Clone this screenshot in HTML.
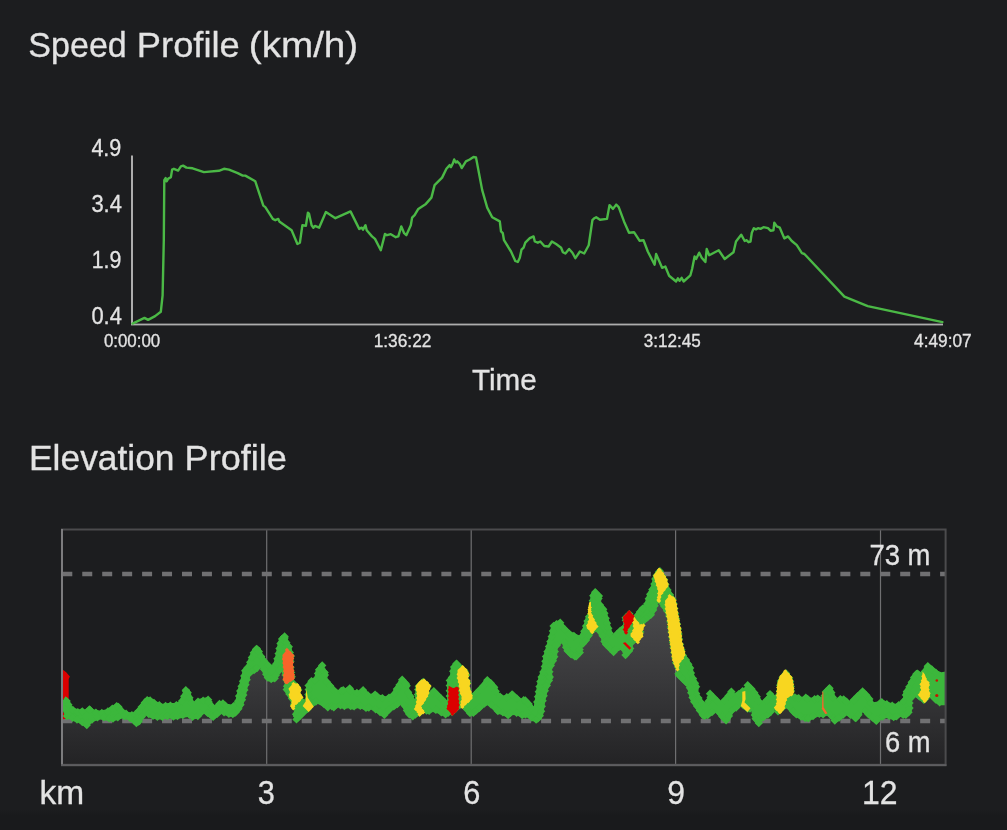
<!DOCTYPE html>
<html><head><meta charset="utf-8"><title>Profiles</title>
<style>
html,body{margin:0;padding:0;background:#1c1d1f;}
body{width:1007px;height:830px;overflow:hidden;position:relative;font-family:"Liberation Sans",sans-serif;}
</style></head><body>
<svg width="1007" height="830" viewBox="0 0 1007 830" style="position:absolute;left:0;top:0;display:block">
<defs><linearGradient id="g" x1="0" y1="575" x2="0" y2="765" gradientUnits="userSpaceOnUse"><stop offset="0" stop-color="#515153"/><stop offset="0.55" stop-color="#39393b"/><stop offset="1" stop-color="#232325"/></linearGradient>
<linearGradient id="bb" x1="0" y1="810" x2="0" y2="830" gradientUnits="userSpaceOnUse"><stop offset="0" stop-color="#1c1d1f"/><stop offset="0.25" stop-color="#191a1c"/><stop offset="1" stop-color="#191a1c"/></linearGradient>
<filter id="gs" x="0" y="0" width="1007" height="830" filterUnits="userSpaceOnUse" color-interpolation-filters="sRGB"><feColorMatrix type="saturate" values="0"/></filter>
<marker id="dg" markerWidth="10" markerHeight="10" refX="5" refY="5" markerUnits="userSpaceOnUse"><path d="M5 0.8L9.2 5L5 9.2L0.8 5Z" fill="#3cb73c"/></marker>
<marker id="dy" markerWidth="6" markerHeight="6" refX="3" refY="3" markerUnits="userSpaceOnUse"><path d="M3 0.9L5.1 3L3 5.1L0.9 3Z" fill="#f8d620"/></marker>
<marker id="do" markerWidth="6" markerHeight="6" refX="3" refY="3" markerUnits="userSpaceOnUse"><path d="M3 0.9L5.1 3L3 5.1L0.9 3Z" fill="#f8652a"/></marker>
<marker id="dr" markerWidth="6" markerHeight="6" refX="3" refY="3" markerUnits="userSpaceOnUse"><path d="M3 0.9L5.1 3L3 5.1L0.9 3Z" fill="#dc0000"/></marker>
<clipPath id="c"><rect x="61" y="529" width="885" height="236"/></clipPath></defs>
<rect x="0" y="810" width="1007" height="20" fill="url(#bb)"/>
<rect x="131" y="155.5" width="2" height="169.5" fill="#adadad"/>
<rect x="131" y="323.6" width="812" height="1.8" fill="#adadad"/>
<polyline points="132.5,323.6 144.5,317.9 148.1,319.9 155.1,316.1 160.8,311.8 162.6,295.3 163.8,240.2 164.3,180.1 165.6,178.1 166.6,181.3 168.1,178.8 170.9,177.1 172.1,169.6 173.9,168.8 178.1,170.6 180.9,166.3 183.1,165.6 186.4,167.6 192.6,168.3 203.9,172.1 218.9,170.8 224.0,168.8 229.0,169.6 237.7,173.1 242.7,175.6 245.3,175.6 255.3,181.3 263.3,205.6 265.3,207.1 272.8,218.9 275.3,220.2 278.3,218.9 279.3,221.4 291.6,230.2 297.4,244.0 299.9,242.7 302.4,225.2 305.9,225.7 307.9,212.6 309.1,213.9 311.6,225.2 313.4,227.7 314.9,225.9 319.1,227.7 325.9,212.1 335.4,218.2 350.5,211.4 359.2,228.9 361.7,227.7 363.0,229.7 365.5,225.2 366.7,230.2 372.0,236.4 375.0,238.9 380.8,250.2 385.0,233.9 387.0,235.2 390.8,234.2 395.8,237.2 398.3,236.4 401.3,226.4 404.1,233.2 406.3,235.2 410.8,225.2 412.1,217.7 414.6,215.2 418.3,208.9 425.9,203.9 431.4,197.6 434.6,185.1 437.1,182.6 442.1,177.6 446.4,168.8 449.7,165.1 450.9,167.1 452.7,163.8 454.2,159.5 455.9,162.5 457.2,161.3 459.7,163.8 461.7,168.1 465.9,161.3 469.7,159.5 473.5,157.0 476.0,157.5 482.2,190.1 487.2,207.6 492.2,217.2 499.8,221.4 501.0,231.4 502.8,233.2 504.0,240.2 511.0,251.5 515.3,261.0 517.8,262.0 519.8,257.7 521.5,249.7 523.6,247.7 525.3,242.7 529.8,238.2 533.6,236.4 534.8,241.5 537.8,242.7 540.3,241.5 544.3,246.0 548.6,246.5 551.9,241.5 556.1,244.0 561.1,247.7 562.9,252.2 565.4,253.5 569.1,249.0 572.4,252.7 575.4,258.2 579.9,251.5 584.2,253.5 588.7,245.2 592.4,220.2 594.4,218.2 596.2,217.2 600.0,219.7 607.0,218.9 609.5,205.1 613.0,208.9 616.2,204.6 618.7,207.1 624.0,221.4 629.0,232.7 634.0,232.2 639.5,240.7 643.5,240.2 647.8,251.5 654.6,264.7 656.1,254.0 662.1,267.8 665.3,266.5 669.1,275.8 676.1,281.5 677.9,278.3 679.6,280.8 681.6,277.8 683.6,281.5 690.4,275.3 692.1,269.0 694.6,256.5 696.1,259.0 699.2,252.7 701.7,257.7 705.4,262.0 706.7,249.0 709.2,255.2 718.7,250.2 724.7,259.0 733.5,252.2 736.0,241.5 741.2,234.7 744.7,241.0 746.7,240.2 748.5,242.2 750.5,241.5 751.8,232.7 753.8,228.2 756.0,229.4 758.0,228.2 760.5,228.9 763.5,227.2 768.0,228.2 770.5,230.7 773.5,230.2 774.3,222.7 776.8,226.4 779.8,227.7 784.3,238.4 788.1,236.4 791.8,241.0 796.8,245.2 801.9,253.2 804.4,254.0 844.4,296.6 867.7,306.1 942.4,322.1" fill="none" stroke="#4bb946" stroke-width="2.4" stroke-linejoin="round" stroke-linecap="round"/>
<g clip-path="url(#c)">
<polygon points="61.5,765 61.5,705.4 62.2,705.4 65.5,700.2 69.2,703.9 72.2,710.7 75.2,712.2 78.9,713.6 81.9,712.2 84.9,713.6 89.4,709.9 93.8,713.6 99.8,714.4 105.8,713.6 111.8,709.9 117.0,706.9 120.7,709.2 123.7,713.6 128.2,715.9 132.7,716.6 136.4,713.6 140.2,708.4 144.6,702.4 148.4,700.9 152.1,702.4 156.6,705.4 162.6,707.7 168.6,706.9 174.5,706.9 179.0,705.4 182.0,698.7 184.2,693.0 186.5,691.5 189.5,693.5 191.7,700.2 194.0,706.2 196.9,703.2 204.0,701.7 208.4,700.9 211.4,705.4 214.4,709.2 218.2,705.4 222.6,704.7 227.1,707.7 231.6,708.4 235.3,705.4 237.6,694.2 240.6,683.8 242.8,673.3 246.5,668.8 249.5,659.9 252.5,653.1 256.3,649.4 260.0,651.6 263.0,658.4 266.7,664.3 271.2,668.8 273.4,668.1 275.7,658.4 277.9,646.4 280.2,640.4 283.2,638.2 286.9,640.4 289.1,646.4 291.4,650.1 292.1,654.6 293.6,659.1 292.9,668.8 294.4,680.8 293.9,684.5 298.1,688.2 301.1,692.7 300.3,697.2 302.6,701.7 305.3,705.9 305.9,694.2 306.3,688.2 309.3,683.8 314.5,681.5 316.0,673.3 320.5,667.3 325.0,672.6 328.0,676.3 327.2,682.3 331.0,686.8 335.4,692.0 338.4,694.2 341.0,691.2 345.5,692.0 349.2,689.7 354.4,694.2 358.9,694.2 362.6,691.2 367.1,695.7 370.9,698.0 374.6,695.7 379.8,698.7 385.8,700.2 391.8,697.2 394.8,691.2 399.2,684.5 403.0,680.8 406.7,684.5 409.7,688.2 409.0,692.7 412.7,698.7 414.9,703.9 415.7,689.7 419.4,685.3 423.9,683.0 427.6,686.0 430.6,689.7 429.1,694.2 428.8,698.0 430.6,695.7 435.1,692.7 439.6,697.2 444.1,701.7 447.1,704.7 447.1,683.8 450.0,679.3 450.8,671.8 453.0,667.3 456.3,664.3 459.8,667.3 462.0,669.6 466.5,673.3 468.7,677.8 468.0,682.3 470.2,685.3 469.5,691.2 471.0,695.7 472.5,698.7 474.0,695.7 479.9,689.7 484.4,684.5 488.2,681.5 491.9,684.5 496.4,689.7 499.4,697.2 503.8,699.5 508.3,698.0 512.1,695.0 516.5,698.7 521.0,702.4 525.5,700.9 530.7,706.2 533.7,710.7 535.2,701.7 536.7,691.2 538.2,682.3 541.9,671.8 543.4,659.9 547.7,645.3 550.2,635.2 551.0,629.3 556.1,625.1 559.5,624.2 564.5,629.3 570.4,635.2 577.2,638.6 579.7,639.4 583.1,631.0 585.6,621.7 589.0,615.0 589.9,606.5 590.7,598.1 595.8,593.0 601.7,598.9 600.8,605.7 605.9,612.4 608.4,621.7 611.0,631.8 612.7,638.6 617.7,633.5 621.9,630.1 623.6,628.5 622.8,620.9 628.7,615.0 633.8,620.0 639.7,611.6 644.7,607.4 647.3,598.1 651.5,588.8 653.2,579.5 659.1,571.9 663.3,577.0 666.7,582.9 668.4,589.6 671.7,596.4 675.1,602.3 676.8,609.9 677.6,616.6 679.3,625.1 681.0,635.2 681.9,645.3 685.2,658.0 688.6,663.1 692.8,670.7 693.7,677.4 699.0,689.7 698.2,695.7 702.0,703.2 704.9,706.9 707.9,700.2 711.7,695.7 716.1,700.2 720.6,704.7 725.1,700.2 729.6,693.5 734.1,697.2 737.8,695.7 741.5,692.7 745.3,691.2 749.0,686.8 753.5,691.2 758.0,697.2 760.2,701.7 761.7,705.4 766.2,700.9 771.4,695.7 775.2,699.5 777.4,695.7 777.4,686.8 779.6,680.8 785.6,674.1 791.6,680.8 793.1,686.8 793.8,694.2 793.1,698.7 797.6,698.7 802.1,700.9 805.8,698.7 811.0,701.7 817.0,699.5 821.5,700.9 823.7,694.2 829.0,689.0 833.4,694.2 836.0,702.4 840.5,700.2 844.9,700.9 849.4,704.7 853.9,700.2 858.4,695.7 864.4,693.5 869.6,698.7 871.8,701.7 873.3,706.2 877.8,705.4 881.5,703.2 886.8,705.4 891.3,706.9 895.7,707.7 900.2,705.4 903.2,701.7 903.2,696.5 906.9,689.7 910.7,682.3 912.9,677.8 916.7,674.1 921.1,676.3 924.1,671.8 928.6,667.3 933.1,671.1 937.6,674.8 941.3,676.3 945.8,675.5 946,675.5 946,765" fill="url(#g)"/>
</g>
<rect x="266.09999999999997" y="530" width="1.2" height="235" fill="#6f6f71"/>
<rect x="470.59999999999997" y="530" width="1.2" height="235" fill="#6f6f71"/>
<rect x="675.0" y="530" width="1.2" height="235" fill="#6f6f71"/>
<rect x="879.9" y="530" width="1.2" height="235" fill="#6f6f71"/>
<line x1="62.3" y1="574" x2="946" y2="574" stroke="#707072" stroke-width="4.5" stroke-dasharray="10 9.95" clip-path="url(#c)"/>
<line x1="62.3" y1="721" x2="946" y2="721" stroke="#707072" stroke-width="4.5" stroke-dasharray="10 9.95" clip-path="url(#c)"/>
<g clip-path="url(#c)" stroke-linejoin="round">
<polygon points="62.2,669.3 66.2,672.3 69.9,676.5 68.7,679.0 68.7,699.2 62.2,699.2" fill="#dc0000"/>
<polygon points="62.2,709.6 66.2,718.6 62.2,719.4" fill="#dc0000"/>
<polygon points="61.5,701.4 62.2,701.4 65.5,696.2 69.2,699.9 72.2,706.7 75.2,708.2 78.9,709.6 81.9,708.2 84.9,709.6 89.4,705.9 93.8,709.6 99.8,710.4 105.8,709.6 111.8,705.9 117.0,702.9 120.7,705.2 123.7,709.6 128.2,711.9 132.7,712.6 136.4,709.6 140.2,704.4 144.6,698.4 148.4,696.9 152.1,698.4 156.6,701.4 162.6,703.7 168.6,702.9 174.5,702.9 179.0,701.4 182.0,694.7 184.2,689.0 186.5,687.5 189.5,689.5 191.7,696.2 194.0,702.2 196.9,699.2 204.0,697.7 208.4,696.9 211.4,701.4 214.4,705.2 218.2,701.4 222.6,700.7 227.1,703.7 231.6,704.4 235.3,701.4 237.6,690.2 240.6,679.8 242.8,669.3 246.5,664.8 249.5,655.9 252.5,649.1 256.3,645.4 260.0,647.6 263.0,654.4 266.7,660.3 271.2,664.8 273.4,664.1 275.7,654.4 277.9,642.4 280.2,636.4 283.2,634.2 286.9,636.4 289.1,642.4 291.4,646.1 292.1,650.6 293.6,655.1 292.9,664.8 294.4,676.8 293.9,680.5 298.1,684.2 301.1,688.7 300.3,693.2 302.6,697.7 305.3,701.9 305.9,690.2 306.3,684.2 309.3,679.8 314.5,677.5 316.0,669.3 320.5,663.3 325.0,668.6 328.0,672.3 327.2,678.3 331.0,682.8 335.4,688.0 338.4,690.2 341.0,687.2 345.5,688.0 349.2,685.7 354.4,690.2 358.9,690.2 362.6,687.2 367.1,691.7 370.9,694.0 374.6,691.7 379.8,694.7 385.8,696.2 391.8,693.2 394.8,687.2 399.2,680.5 403.0,676.8 406.7,680.5 409.7,684.2 409.0,688.7 412.7,694.7 414.9,699.9 415.7,685.7 419.4,681.3 423.9,679.0 427.6,682.0 430.6,685.7 429.1,690.2 428.8,694.0 430.6,691.7 435.1,688.7 439.6,693.2 444.1,697.7 447.1,700.7 447.1,679.8 450.0,675.3 450.8,667.8 453.0,663.3 456.3,660.3 459.8,663.3 462.0,665.6 466.5,669.3 468.7,673.8 468.0,678.3 470.2,681.3 469.5,687.2 471.0,691.7 472.5,694.7 474.0,691.7 479.9,685.7 484.4,680.5 488.2,677.5 491.9,680.5 496.4,685.7 499.4,693.2 503.8,695.5 508.3,694.0 512.1,691.0 516.5,694.7 521.0,698.4 525.5,696.9 530.7,702.2 533.7,706.7 535.2,697.7 536.7,687.2 538.2,678.3 541.9,667.8 543.4,655.9 547.7,641.3 550.2,631.2 551.0,625.3 556.1,621.1 559.5,620.2 564.5,625.3 570.4,631.2 577.2,634.6 579.7,635.4 583.1,627.0 585.6,617.7 589.0,611.0 589.9,602.5 590.7,594.1 595.8,589.0 601.7,594.9 600.8,601.7 605.9,608.4 608.4,617.7 611.0,627.8 612.7,634.6 617.7,629.5 621.9,626.1 623.6,624.5 622.8,616.9 628.7,611.0 633.8,616.0 639.7,607.6 644.7,603.4 647.3,594.1 651.5,584.8 653.2,575.5 659.1,567.9 663.3,573.0 666.7,578.9 668.4,585.6 671.7,592.4 675.1,598.3 676.8,605.9 677.6,612.6 679.3,621.1 681.0,631.2 681.9,641.3 685.2,654.0 688.6,659.1 692.8,666.7 693.7,673.4 699.0,685.7 698.2,691.7 702.0,699.2 704.9,702.9 707.9,696.2 711.7,691.7 716.1,696.2 720.6,700.7 725.1,696.2 729.6,689.5 734.1,693.2 737.8,691.7 741.5,688.7 745.3,687.2 749.0,682.8 753.5,687.2 758.0,693.2 760.2,697.7 761.7,701.4 766.2,696.9 771.4,691.7 775.2,695.5 777.4,691.7 777.4,682.8 779.6,676.8 785.6,670.1 791.6,676.8 793.1,682.8 793.8,690.2 793.1,694.7 797.6,694.7 802.1,696.9 805.8,694.7 811.0,697.7 817.0,695.5 821.5,696.9 823.7,690.2 829.0,685.0 833.4,690.2 836.0,698.4 840.5,696.2 844.9,696.9 849.4,700.7 853.9,696.2 858.4,691.7 864.4,689.5 869.6,694.7 871.8,697.7 873.3,702.2 877.8,701.4 881.5,699.2 886.8,701.4 891.3,702.9 895.7,703.7 900.2,701.4 903.2,697.7 903.2,692.5 906.9,685.7 910.7,678.3 912.9,673.8 916.7,670.1 921.1,672.3 924.1,667.8 928.6,663.3 933.1,667.1 937.6,670.8 941.3,672.3 945.8,671.5 946,671.5 946,705.2 945.8,705.2 939.1,705.2 934.6,702.2 930.1,697.7 927.1,700.7 923.4,702.9 919.6,699.9 915.2,696.9 912.2,700.7 912.2,709.6 910.7,714.1 906.2,717.9 900.2,717.1 895.7,720.1 891.3,719.4 886.8,717.9 880.8,720.1 875.6,723.8 871.1,720.1 865.9,715.6 862.9,711.9 859.9,717.9 856.1,721.6 850.9,717.9 846.4,715.6 841.2,719.4 836.0,723.1 831.9,720.1 827.5,715.6 823.0,717.1 818.5,716.4 814.0,718.6 808.0,721.6 802.1,720.1 797.6,717.9 793.1,715.6 787.1,708.2 784.1,709.6 779.6,713.4 775.2,709.6 771.4,715.6 766.2,718.6 761.7,721.6 757.2,725.3 752.8,719.4 751.3,711.1 747.5,711.9 740.8,706.7 737.8,709.6 733.3,712.6 730.3,719.4 725.1,723.1 719.9,717.9 716.1,712.6 711.7,715.6 707.2,718.6 702.0,718.6 691.1,701.9 689.5,697.0 686.9,686.9 681.9,681.9 675.1,675.1 676.8,670.9 673.4,663.3 671.7,653.2 670.0,641.3 668.4,629.5 667.5,619.4 665.0,612.6 660.8,605.9 658.2,602.5 656.5,609.3 653.2,616.0 646.4,621.9 643.0,624.5 643.0,634.6 636.3,642.2 632.9,644.7 632.9,650.6 627.0,657.4 621.1,649.8 617.7,651.5 611.8,654.0 607.6,649.8 602.5,644.7 600.8,638.0 596.6,631.2 593.2,632.9 591.5,636.3 587.3,643.0 582.3,648.1 582.3,654.0 576.4,659.9 570.4,657.4 564.5,651.5 562.0,643.0 557.8,648.1 556.9,658.2 551.9,670.0 552.7,678.5 547.7,690.3 545.1,701.9 544.9,703.7 543.4,714.1 541.2,719.4 536.7,722.8 530.7,720.1 526.3,717.1 521.8,717.9 517.3,715.6 512.8,714.9 507.6,717.9 502.4,714.9 496.4,713.4 491.9,708.2 487.4,705.2 484.4,706.7 479.9,711.1 474.0,715.6 468.0,714.9 465.0,711.1 462.0,706.7 457.5,710.4 453.0,714.9 450.0,714.9 445.6,717.1 441.8,715.6 438.1,713.4 432.9,711.9 428.4,714.1 424.6,712.6 420.2,715.6 416.4,717.1 411.9,718.9 408.2,717.1 405.2,713.4 403.0,708.2 400.7,704.4 397.8,707.4 393.3,709.6 388.8,713.4 384.3,717.9 380.6,715.6 376.1,712.6 370.9,709.6 366.4,711.1 361.9,708.9 357.4,708.2 352.9,709.6 348.4,708.2 344.0,708.9 338.4,707.4 334.0,710.4 329.5,708.2 326.5,709.6 322.0,705.9 317.5,703.7 313.0,706.7 309.3,711.1 307.1,712.6 302.6,717.1 298.1,721.6 292.9,715.6 294.4,709.6 292.1,708.2 290.6,701.4 287.6,696.2 283.9,690.2 284.6,683.5 283.2,676.8 281.7,671.5 278.7,675.3 276.4,680.5 272.7,682.0 268.2,681.3 265.2,679.0 262.2,671.5 260.0,667.8 257.8,671.5 254.0,673.0 250.3,676.0 248.0,685.7 245.8,696.2 242.8,706.7 239.1,712.6 235.3,716.4 230.9,717.1 225.6,715.6 221.1,714.1 217.4,717.1 213.7,719.8 208.4,717.1 204.0,713.4 198.4,718.6 192.5,719.4 188.0,717.1 182.0,717.9 174.5,719.4 168.6,718.6 162.6,719.4 156.6,719.4 150.6,717.9 146.1,715.6 142.4,720.1 140.2,724.6 136.4,725.8 132.7,723.1 128.2,720.1 122.2,718.6 117.8,720.1 111.8,721.6 105.8,720.4 99.8,719.4 93.8,721.6 89.4,724.6 85.6,727.6 82.6,725.3 78.9,723.1 74.4,721.6 69.9,719.4 66.2,718.6 62.2,709.3 61.5,709.3" fill="#3cb73c"/>
<polyline points="67.3,698.5 66.6,701.1 68.4,704.8 72.8,710.0 77.8,712.1 82.3,711.4 89.4,709.4 90.0,709.9 95.9,712.6 101.8,712.9 107.9,711.5 112.3,708.8 116.7,706.2 118.4,706.9 120.8,710.2 126.1,713.8 131.9,715.2 138.6,711.1 141.7,706.9 144.8,702.8 147.2,700.3 150.1,700.5 154.0,702.9 159.3,705.3 165.6,706.0 170.4,705.6 176.4,705.1 182.1,701.1 184.2,696.3 186.2,691.4 185.8,690.3 187.7,692.8 189.4,697.8 191.3,702.7 198.0,701.7 203.1,700.7 208.1,699.7 208.6,702.0 211.9,706.4 219.5,703.9 222.9,703.4 225.4,705.8 233.6,706.3 238.1,701.2 239.1,696.1 240.2,691.0 241.6,686.2 243.0,681.2 244.2,675.9 245.2,670.8 247.6,667.8 250.2,662.3 251.9,657.4 253.8,652.8 256.1,649.4 256.8,648.9 258.8,651.6 261.2,656.6 264.0,661.0 267.9,665.3 276.2,663.9 277.4,658.8 278.6,653.6 279.5,648.5 280.5,643.4 282.1,639.0 284.6,636.5 284.6,637.9 286.4,642.8 288.8,646.8 289.8,652.4 290.8,656.3 290.4,661.5 290.5,667.2 291.1,672.4 291.7,676.8 293.5,683.8 296.7,686.9 298.2,689.5 298.7,696.1 301.4,700.9 308.1,699.8 308.4,694.6 308.7,689.5 308.6,685.6 311.5,681.3 315.1,680.2 318.0,673.4 319.1,669.7 322.2,665.5 321.3,668.4 324.6,672.4 324.9,675.1 326.6,681.8 330.0,685.8 333.3,689.7 341.4,690.9 343.2,690.3 349.7,688.5 350.6,690.5 356.9,692.9 363.1,690.3 363.3,691.7 367.8,695.3 375.1,694.6 376.8,696.1 382.3,698.1 389.0,697.6 394.6,693.7 396.9,689.1 399.5,685.0 402.3,681.3 402.2,679.8 405.6,683.4 406.7,685.7 408.1,692.3 410.5,696.4 417.6,699.8 417.9,694.6 418.2,689.4 418.8,686.2 421.6,683.2 423.2,681.9 426.6,685.0 427.4,686.9 426.2,692.6 433.0,693.4 433.8,691.2 437.5,694.9 441.2,698.6 444.8,702.2 449.8,696.0 449.8,690.8 449.8,685.6 449.8,680.4 451.9,677.4 453.2,671.2 454.1,667.1 456.5,663.8 456.8,664.3 460.6,668.0 464.6,671.3 466.3,675.0 466.2,680.4 467.3,683.1 467.4,689.4 469.4,694.5 476.2,693.4 479.8,689.7 483.5,685.7 486.6,682.2 487.3,680.2 490.8,683.3 494.2,687.3 495.7,691.3 500.0,696.6 506.8,697.3 512.1,694.4 512.8,695.1 516.8,698.4 523.7,700.3 525.3,700.5 528.6,703.9 531.4,708.2 537.2,702.0 538.0,696.8 538.8,691.7 539.5,686.6 540.4,681.5 541.6,676.9 543.3,672.0 544.8,666.5 545.4,661.3 546.0,656.6 547.5,651.6 549.0,646.6 550.4,641.5 551.7,636.4 552.9,631.1 553.6,625.9 556.5,624.3 560.2,622.8 561.2,625.8 564.9,629.5 569.3,633.7 573.9,636.0 582.3,636.2 584.3,631.3 586.1,626.1 587.5,621.1 589.1,616.8 591.7,611.2 592.2,606.0 592.8,600.8 593.3,595.7 595.4,593.3 595.2,592.2 598.9,595.9 598.5,598.4 600.0,605.1 603.2,609.3 604.4,613.2 605.7,618.2 607.0,623.2 608.3,628.3 609.6,633.3 616.9,634.2 620.4,630.8 624.5,627.4 625.9,620.3 625.7,617.8 629.4,614.1 629.3,615.4 636.9,616.3 639.9,612.0 642.7,608.6 647.4,603.8 648.8,598.8 650.2,594.2 652.4,589.5 654.4,584.0 655.3,578.9 656.7,575.4 659.9,571.3 658.9,572.0 661.8,575.8 664.1,579.6 665.4,584.6 667.5,589.9 669.9,594.7 672.5,599.3 673.5,603.5 674.4,608.4 675.1,613.7 676.1,618.8 677.0,623.9 677.9,629.0 678.5,633.9 679.0,639.1 680.0,644.6 681.3,649.7 683.0,655.5 685.9,659.9 688.3,664.2 690.2,667.9 690.9,673.0 693.0,678.6 695.0,683.3 696.1,686.8 696.1,693.5 698.4,698.1 701.5,702.9 708.6,701.2 710.6,697.2 710.0,693.8 713.6,697.5 717.3,701.2 724.8,700.3 728.5,696.0 731.4,691.7 731.3,694.4 738.6,694.3 742.7,691.1 748.2,687.9 747.7,685.3 751.4,688.9 754.3,692.7 756.7,696.7 758.7,701.3 766.4,700.5 770.1,696.8 770.0,694.1 777.8,696.4 780.1,690.4 780.1,685.2 780.9,681.1 782.7,677.4 786.1,673.5 785.6,674.1 789.1,678.0 790.1,681.7 790.7,686.5 790.9,691.0 794.9,697.4 798.7,698.2 805.8,697.8 807.6,698.9 814.6,699.3 817.8,698.6 824.7,695.7 825.8,691.9 829.5,688.3 829.0,689.2 831.3,692.6 832.9,697.5 840.3,699.3 843.7,699.4 846.5,701.8 853.9,700.0 857.6,696.3 860.6,693.8 862.6,691.5 866.3,695.2 869.3,698.9 870.7,703.0 879.7,703.4 881.8,702.3 886.8,704.3 892.2,705.8 898.8,705.1 903.7,701.3 905.9,695.0 906.9,691.4 909.4,686.8 911.7,682.2 914.1,677.5 916.5,674.0 917.6,673.6 924.8,671.6 927.7,668.0 927.8,666.2 931.8,669.5 935.8,672.8 942.9,674.8" fill="none" stroke="none" marker-mid="url(#dg)"/>
<polyline points="66.7,713.0 67.0,716.0 72.6,717.7 77.0,719.6 82.3,722.0 86.8,725.1 87.6,722.6 92.0,719.5 97.5,717.4 103.9,717.3 109.1,718.3 113.0,718.5 117.8,717.3 124.3,716.3 130.1,718.1 134.5,721.1 136.4,723.0 138.7,721.5 141.8,716.6 148.8,714.0 153.0,715.7 157.4,716.7 162.3,716.7 167.4,716.0 173.3,716.5 177.5,716.0 182.8,715.1 189.5,714.8 192.6,716.7 197.8,716.0 200.2,713.3 207.6,712.9 211.3,715.6 213.1,716.9 217.1,713.9 224.1,712.2 228.9,713.7 232.8,714.1 235.6,712.3 238.4,708.7 240.5,704.8 242.0,699.8 243.3,695.0 244.4,689.9 245.5,684.7 246.7,679.7 249.2,673.4 254.1,670.0 256.7,668.1 264.0,669.2 266.2,674.3 267.8,677.6 271.2,679.0 274.7,678.3 275.8,675.3 279.1,670.5 285.5,675.0 286.7,680.2 287.0,686.2 286.7,689.5 289.4,694.0 292.1,698.5 294.0,704.2 294.9,706.8 296.0,714.3 297.0,716.2 296.5,719.4 300.2,715.7 303.9,712.0 307.7,708.9 311.6,704.4 315.9,701.5 323.8,703.9 327.8,707.2 331.9,706.4 333.8,707.3 340.5,705.2 344.4,706.1 350.7,706.1 354.1,706.4 360.3,705.9 366.0,707.9 368.8,707.5 375.6,709.2 380.1,712.0 384.4,714.8 385.0,713.4 389.0,709.7 393.8,706.4 397.3,704.1 404.6,705.6 407.0,710.6 409.4,714.3 412.8,716.3 415.4,714.6 419.6,712.7 426.5,710.5 429.1,710.7 435.9,709.9 441.3,712.2 445.6,714.2 448.1,712.8 452.1,712.0 456.0,708.2 460.0,704.9 466.9,709.2 470.0,713.1 473.3,712.8 475.7,710.9 479.4,707.8 484.0,703.9 491.2,704.5 495.6,708.3 497.9,711.0 502.9,712.2 508.1,715.1 509.9,713.4 516.6,712.8 522.2,715.1 525.5,714.5 531.9,717.6 536.1,719.6 537.8,718.6 539.8,715.7 541.1,711.3 541.8,706.2 542.6,700.8 543.7,695.8 544.8,690.7 546.8,685.4 548.9,680.6 549.8,677.0 549.4,671.8 550.8,665.6 552.9,660.8 554.3,656.7 554.8,651.6 556.7,645.2 564.6,642.3 566.1,647.3 567.6,650.7 571.2,654.4 574.8,656.3 576.2,656.3 579.8,652.6 579.6,649.6 583.0,643.5 586.0,640.1 588.7,635.6 592.4,630.3 599.9,631.4 602.6,635.8 604.5,641.5 606.2,644.6 609.9,648.3 613.6,652.0 615.4,649.6 623.2,648.2 626.4,652.3 625.5,655.0 628.9,651.1 630.2,648.4 632.5,641.6 635.9,638.6 639.3,634.7 640.3,631.9 640.3,626.7 643.8,620.5 647.6,617.3 650.8,614.7 653.1,610.0 654.6,605.7 661.1,601.9 664.3,606.3 667.0,610.7 669.2,616.1 670.4,621.8 670.9,627.0 671.5,632.0 672.2,637.2 672.9,642.3 673.6,647.4 674.3,652.6 675.2,657.7 676.1,662.8 678.0,666.9 678.6,673.8 678.9,675.1 682.6,678.8 686.3,682.4 689.9,687.8 691.2,692.8 692.5,697.6 694.2,701.8 697.1,706.1 699.9,710.5 702.8,714.8 704.5,715.9 707.7,715.0 712.0,712.1 719.5,712.8 722.4,716.6 726.1,720.2 726.7,718.7 728.9,715.9 732.2,710.1 736.1,707.5 743.4,705.3 747.6,708.5 750.0,708.6 754.8,715.0 755.7,718.8 758.8,723.0 758.8,720.5 763.3,717.3 767.8,714.5 770.5,711.9 777.5,708.0 778.0,711.2 781.9,707.9 790.0,707.5 793.3,711.6 796.3,714.2 800.9,716.5 805.2,718.1 808.3,718.4 813.0,716.1 819.3,713.8 823.1,714.2 830.4,714.7 833.8,718.1 834.8,720.6 839.1,717.6 843.2,714.6 850.5,714.7 855.2,717.7 855.8,718.1 858.4,714.8 865.4,710.7 868.5,714.2 872.4,717.6 876.3,720.9 877.2,719.3 882.5,716.6 889.1,715.8 893.7,717.1 896.5,716.3 903.1,714.8 905.8,714.7 908.5,712.3 909.5,708.1 909.5,702.9 911.9,696.7 919.5,696.5 923.8,699.8 925.1,698.8 932.2,695.9 935.8,699.6 939.6,702.3 943.1,702.5" fill="none" stroke="none" marker-mid="url(#dg)"/>
<polygon points="288.4,688.7 293.6,682.8 298.1,684.2 301.1,688.7 300.3,693.2 302.6,697.7 299.6,701.4 295.1,705.2 292.9,709.6 290.6,706.7 292.1,701.4 289.1,696.2 289.9,691.7" fill="#f8d620"/>
<polyline points="291.9,686.4 293.4,683.9 297.2,685.1 299.1,687.7 299.7,690.5 300.0,695.0 301.5,697.3 299.0,700.4 296.1,702.9 293.3,706.3 293.3,708.3 292.0,705.9 293.1,702.1 291.2,697.7 290.5,694.8 290.4,690.3" fill="none" stroke="none" marker-mid="url(#dy)"/>
<polygon points="306.3,688.7 307.8,697.7 313.8,706.7 308.6,711.9 302.6,705.9 305.6,701.4" fill="#f8d620"/>
<polygon points="415.7,685.7 419.4,681.3 423.9,679.0 427.6,682.0 430.6,685.7 429.1,690.2 428.4,694.7 424.6,701.4 420.9,706.7 424.6,712.6 420.2,715.6 414.9,709.6 416.4,703.7 417.2,694.7 416.4,690.2" fill="#f8d620"/>
<polyline points="419.1,683.3 421.9,681.3 424.1,680.6 427.0,683.0 429.5,686.1 428.4,688.8 427.6,692.9 426.3,696.2 424.3,699.7 422.2,703.0 420.1,707.5 422.2,710.8 423.0,712.4 419.6,714.6 418.4,711.9 415.8,708.9 416.9,706.1 417.7,702.0 418.0,698.0 418.1,693.7 417.5,689.8 416.8,685.9" fill="none" stroke="none" marker-mid="url(#dy)"/>
<polygon points="457.5,670.1 462.7,665.6 466.5,669.3 468.7,673.8 468.0,678.3 470.2,681.3 469.5,687.2 471.0,691.7 472.5,697.7 469.5,701.4 465.0,705.2 462.7,708.2 460.5,704.4 462.0,697.7 459.8,691.7 459.0,684.2 457.5,678.3" fill="#f8d620"/>
<polyline points="461.2,668.3 462.7,667.2 465.6,670.0 467.2,673.2 467.2,676.4 468.4,680.8 468.8,683.7 468.6,688.1 469.9,691.9 470.9,695.7 470.6,698.3 468.1,701.1 465.0,703.7 462.3,706.9 462.0,704.9 462.2,701.9 463.1,698.0 461.7,693.6 460.7,690.0 460.3,686.0 459.6,681.9 458.6,678.1 458.6,674.3 458.6,670.3" fill="none" stroke="none" marker-mid="url(#dy)"/>
<polygon points="589.0,602.5 591.0,601.7 591.0,612.6 593.2,617.7 597.5,626.1 592.4,633.7 586.5,627.0 589.0,619.4 588.2,612.6" fill="#f8d620"/>
<polyline points="589.9,603.5 589.9,607.5 589.9,611.5 591.2,615.7 592.9,619.4 594.7,623.0 596.5,626.6 594.4,628.8 592.2,632.1 591.4,630.9 588.7,627.9 588.1,625.6 589.4,621.8 589.9,617.4 589.4,613.4 589.5,609.7 589.9,605.7" fill="none" stroke="none" marker-mid="url(#dy)"/>
<polygon points="633.8,616.0 639.7,624.5 644.7,625.3 642.2,631.2 643.0,636.3 637.1,643.0 630.4,635.4 633.8,628.7 632.9,621.1" fill="#f8d620"/>
<polyline points="635.2,619.9 637.5,623.2 641.2,625.8 643.5,625.4 641.9,629.1 641.5,633.5 641.5,636.3 638.9,639.3 637.9,642.2 635.2,639.2 632.6,636.2 632.3,634.1 634.1,630.6 634.6,626.1 634.1,622.2 634.5,618.5" fill="none" stroke="none" marker-mid="url(#dy)"/>
<polygon points="653.2,575.5 659.1,567.9 663.3,573.0 666.7,578.9 668.4,585.6 665.0,589.9 660.8,595.8 659.9,602.5 657.4,600.8 658.2,590.7 655.7,582.3" fill="#f8d620"/>
<polyline points="656.5,573.0 659.0,569.9 659.8,570.4 662.3,573.5 664.2,576.8 665.9,580.1 666.9,584.0 666.3,586.5 663.8,589.7 661.5,593.0 659.5,597.0 659.0,600.9 658.4,600.1 658.8,597.4 659.1,593.4 658.9,589.0 657.7,585.2 656.5,581.3 655.1,577.6" fill="none" stroke="none" marker-mid="url(#dy)"/>
<polygon points="665.0,600.8 670.0,594.9 675.1,598.3 676.8,605.9 677.6,612.6 679.3,621.1 681.0,631.2 681.9,641.3 685.2,654.0 683.5,658.2 679.3,663.3 678.5,670.0 675.1,666.7 672.6,659.9 671.7,653.2 670.0,641.3 668.4,629.5 667.5,619.4 665.8,611.0" fill="#f8d620"/>
<polyline points="668.4,598.5 669.6,596.0 672.9,598.2 674.5,600.6 675.4,604.5 676.0,608.4 676.5,612.3 677.2,616.3 678.0,620.3 678.7,624.2 679.4,628.1 680.0,632.0 680.3,636.0 680.7,640.0 681.5,644.0 682.5,647.9 683.5,651.8 683.6,654.9 682.1,658.2 679.5,661.3 677.9,665.4 677.5,669.4 676.7,666.7 675.2,663.7 673.8,659.9 673.2,656.2 672.7,652.3 672.1,648.3 671.5,644.3 671.0,640.4 670.4,636.4 669.9,632.5 669.4,628.5 669.1,624.5 668.7,620.6 668.0,616.5 667.2,612.6 666.7,608.8 666.4,604.8 666.1,600.8" fill="none" stroke="none" marker-mid="url(#dy)"/>
<polygon points="742.3,691.7 745.3,691.0 745.6,699.2 744.5,702.2 750.5,708.2 747.5,711.9 740.8,705.9 742.3,700.7" fill="#f8d620"/>
<polygon points="777.4,682.8 779.6,676.8 785.6,670.1 791.6,676.8 793.1,682.8 793.8,690.2 793.1,694.7 787.1,697.7 784.9,705.2 784.1,709.6 779.6,713.4 774.4,708.2 776.7,703.7 776.7,694.7" fill="#f8d620"/>
<polyline points="779.8,679.4 781.5,676.3 784.2,673.4 785.2,671.3 787.9,674.3 790.5,677.3 791.4,680.6 792.1,684.3 792.5,688.3 792.4,692.0 791.3,694.4 787.7,696.2 785.3,700.0 784.1,703.9 783.3,707.9 781.5,710.3 780.0,712.2 777.2,709.4 775.9,707.6 777.8,703.5 777.8,699.5 777.8,695.5 778.0,691.6 778.2,687.6 778.5,683.6" fill="none" stroke="none" marker-mid="url(#dy)"/>
<polygon points="922.6,671.5 924.9,674.5 926.4,679.8 929.4,682.8 928.6,688.7 930.1,694.7 927.9,699.2 924.1,702.2 918.9,695.5 921.1,690.2 920.4,684.2 921.9,679.8" fill="#f8d620"/>
<polyline points="923.9,675.0 925.0,678.9 927.5,682.5 928.0,685.1 927.7,689.5 928.6,693.3 928.1,696.3 926.2,699.2 924.7,701.1 922.2,698.0 919.8,694.8 921.4,692.2 921.9,687.8 921.5,684.3 922.8,680.6 923.3,676.3 923.6,672.3" fill="none" stroke="none" marker-mid="url(#dy)"/>
<polygon points="282.4,655.1 287.6,649.1 293.6,655.1 292.9,664.8 294.4,676.8 293.6,679.8 290.6,681.3 286.1,684.2 283.2,679.8 283.9,672.3 283.2,664.8" fill="#f8652a"/>
<polyline points="285.9,652.8 286.9,649.9 289.7,652.7 292.5,655.6 292.2,658.6 292.0,662.6 292.0,666.8 292.5,670.7 293.0,674.7 292.9,678.2 290.7,680.0 287.2,682.2 285.9,682.0 284.4,679.2 284.7,675.2 284.9,671.1 284.5,667.1 284.2,663.1 283.8,659.1 283.5,655.1" fill="none" stroke="none" marker-mid="url(#do)"/>
<polygon points="821.5,708.2 823.7,707.4 827.5,713.4 825.2,714.1" fill="#f8652a"/>
<polygon points="822.4,691.7 823.3,691.7 823.6,707.9 822.1,708.2" fill="#f8652a"/>
<polygon points="448.6,685.7 453.0,688.0 458.3,687.2 458.3,697.7 459.0,705.2 458.3,709.6 453.0,714.9 447.1,708.9 448.6,700.7 448.6,693.2" fill="#dc0000"/>
<polyline points="451.6,688.5 456.2,688.6 457.2,688.9 457.2,692.9 457.2,696.9 457.5,701.0 457.9,704.9 457.3,708.6 455.3,711.1 452.4,713.9 451.2,711.5 448.4,708.6 448.8,705.9 449.5,701.9 449.7,697.8 449.7,693.8 449.7,689.8 449.7,685.8" fill="none" stroke="none" marker-mid="url(#dr)"/>
<polygon points="622.8,616.9 628.7,611.0 633.8,616.0 632.9,621.1 628.7,627.8 625.3,633.7 623.6,629.5 624.5,624.5" fill="#dc0000"/>
<polyline points="626.4,614.8 629.2,612.0 630.5,614.3 632.6,616.3 631.9,620.3 630.2,623.3 628.1,626.7 626.0,630.2 626.1,632.7 624.7,629.6 625.4,625.7 624.9,621.3 624.0,617.4" fill="none" stroke="none" marker-mid="url(#dr)"/>
<polygon points="622.8,643.0 625.3,642.2 631.2,648.1 629.5,649.8" fill="#dc0000"/>
<circle cx="936.8" cy="680.5" r="1.3" fill="#c81400"/>
<circle cx="936.8" cy="695.5" r="1.6" fill="#c81400"/>
</g>
<rect x="62" y="529.5" width="883.6" height="235.3" fill="none" stroke="#4b4b4d" stroke-width="2"/>
<rect x="61" y="529" width="2" height="236.5" fill="#7c7c7e"/>
<rect x="61" y="764.2" width="885.5" height="2" fill="#5e5e60"/>
<g font-family="'Liberation Sans', sans-serif" stroke="#e3e3e3" stroke-width="0.3" filter="url(#gs)">
<text x="28.34" y="57.3" font-size="35.5" fill="#e3e3e3" textLength="98.43" lengthAdjust="spacingAndGlyphs">Speed</text>
<text x="136.85" y="57.3" font-size="35.5" fill="#e3e3e3" textLength="102.91" lengthAdjust="spacingAndGlyphs">Profile</text>
<text x="248.83" y="57.3" font-size="35.5" fill="#e3e3e3" textLength="109.36" lengthAdjust="spacingAndGlyphs">(km/h)</text>
<text x="29.01" y="469.7" font-size="35.5" fill="#e3e3e3" textLength="145.53" lengthAdjust="spacingAndGlyphs">Elevation</text>
<text x="184.57" y="469.7" font-size="35.5" fill="#e3e3e3" textLength="102.29" lengthAdjust="spacingAndGlyphs">Profile</text>
<text x="91.4" y="156.3" font-size="24" fill="#e3e3e3" textLength="29.91" lengthAdjust="spacingAndGlyphs">4.9</text>
<text x="91.4" y="212.3" font-size="24" fill="#e3e3e3" textLength="30.52" lengthAdjust="spacingAndGlyphs">3.4</text>
<text x="91.71" y="268.1" font-size="24" fill="#e3e3e3" textLength="29.6" lengthAdjust="spacingAndGlyphs">1.9</text>
<text x="91.4" y="324.0" font-size="24" fill="#e3e3e3" textLength="30.52" lengthAdjust="spacingAndGlyphs">0.4</text>
<text x="103.9" y="347.1" font-size="18" fill="#e3e3e3" textLength="56.31" lengthAdjust="spacingAndGlyphs">0:00:00</text>
<text x="373.64" y="347.1" font-size="18" fill="#e3e3e3" textLength="57.77" lengthAdjust="spacingAndGlyphs">1:36:22</text>
<text x="643.7" y="347.1" font-size="18" fill="#e3e3e3" textLength="57.21" lengthAdjust="spacingAndGlyphs">3:12:45</text>
<text x="914.1" y="347.1" font-size="18" fill="#e3e3e3" textLength="57.51" lengthAdjust="spacingAndGlyphs">4:49:07</text>
<text x="472.0" y="389.8" font-size="29" fill="#e3e3e3" textLength="64.75" lengthAdjust="spacingAndGlyphs">Time</text>
<text x="39.63" y="804.0" font-size="32.3" fill="#e3e3e3" textLength="44.65" lengthAdjust="spacingAndGlyphs">km</text>
<text x="257.68" y="803.7" font-size="33.3" fill="#e3e3e3" textLength="17.1" lengthAdjust="spacingAndGlyphs">3</text>
<text x="463.18" y="803.7" font-size="33.3" fill="#e3e3e3" textLength="17.1" lengthAdjust="spacingAndGlyphs">6</text>
<text x="667.34" y="803.7" font-size="33.3" fill="#e3e3e3" textLength="17.77" lengthAdjust="spacingAndGlyphs">9</text>
<text x="861.98" y="803.7" font-size="33.3" fill="#e3e3e3" textLength="35.58" lengthAdjust="spacingAndGlyphs">12</text>
<text x="869.45" y="564.9" font-size="29" fill="#e3e3e3" textLength="61.04" lengthAdjust="spacingAndGlyphs">73 m</text>
<text x="884.96" y="751.9" font-size="29" fill="#e3e3e3" textLength="45.53" lengthAdjust="spacingAndGlyphs">6 m</text>
</g>
</svg>
</body></html>
